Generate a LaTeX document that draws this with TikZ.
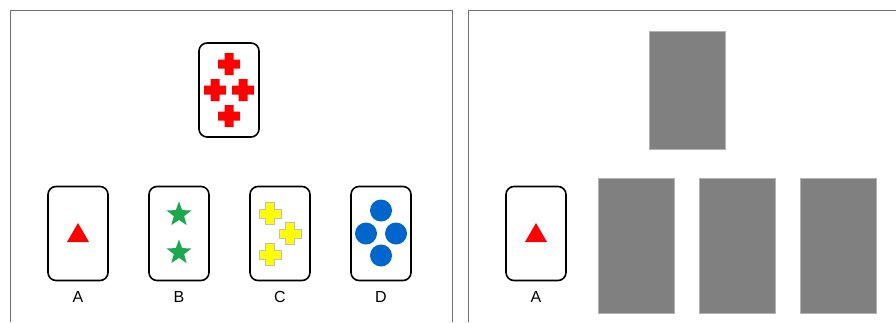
\documentclass[tikz,border=0pt]{standalone}
\usepackage{fontspec}
\setmainfont{Liberation Sans}
\usepackage{tikz}
\usetikzlibrary{positioning,shapes.geometric,calc}
\definecolor{CardRed}{RGB}{255,0,0}
\definecolor{CardGreen}{RGB}{28,168,78}
\definecolor{CardYellow}{RGB}{255,255,0}
\definecolor{CardBlue}{RGB}{0,102,204}
\definecolor{BackGray}{RGB}{128,128,128}
\definecolor{FrameGray}{RGB}{112,112,112}

\begin{document}
\begin{tikzpicture}[x=1pt,y=-1pt,font=\fontsize{16}{18}\selectfont,
  card/.style={draw=black,line width=1.6pt,rounded corners=8pt,
    minimum width=60pt,minimum height=94pt,inner sep=0pt,outer sep=0pt},
  backcard/.style={fill=BackGray,draw=black!30,line width=0.6pt,
    minimum width=76pt,inner sep=0pt,outer sep=0pt},
  cardlabel/.style={inner sep=0pt,anchor=north},
  starmark/.style={star,star points=5,star point ratio=2.4,minimum size=26pt,
    inner sep=0pt,fill=CardGreen},
  dotmark/.style={circle,minimum size=22pt,inner sep=0pt,fill=CardBlue},
  crossmark/.pic={
    \path[pic actions] (-4.5,-11) -- (4.5,-11) -- (4.5,-4.5) -- (11,-4.5) -- (11,4.5)
      -- (4.5,4.5) -- (4.5,11) -- (-4.5,11) -- (-4.5,4.5) -- (-11,4.5) -- (-11,-4.5)
      -- (-4.5,-4.5) -- cycle;
  }]
\useasboundingbox (0,0) rectangle (896,322);

% two panels
\draw[FrameGray,line width=1pt] (10,322) -- (10,10) -- (452,10) -- (452,322);
\draw[FrameGray,line width=1pt] (468,322) -- (468,10) -- (896,10);

% left panel: target card and choices
\node[card] (target) at (229,90) {};
\node[card] (cardA) at (78,233.5) {};
\node[card,right=41pt of cardA] (cardB) {};
\node[card,right=41pt of cardB] (cardC) {};
\node[card,right=41pt of cardC] (cardD) {};
\foreach \c/\t in {cardA/A,cardB/B,cardC/C,cardD/D}{
  \node[cardlabel,below=11pt of \c] (lbl\t) {\t};
}

\foreach \dx/\dy in {0/-26,-14/0,14/0,0/26}{
  \pic[fill=CardRed] at ($(target)+(\dx,\dy)$) {crossmark};
}
\fill[CardRed] ($(cardA)+(0,-10.5)$) -- ($(cardA)+(11,8.5)$) -- ($(cardA)+(-11,8.5)$) -- cycle;
\foreach \dy [count=\k] in {-19,19}{
  \node[starmark] (star\k) at ($(cardB)+(0,\dy)$) {};
}
\foreach \dx/\dy in {-10/-20,10/0,-10/21}{
  \pic[fill=CardYellow,draw=black!25,line width=0.6pt] at ($(cardC)+(\dx,\dy)$) {crossmark};
}
\foreach \dx/\dy [count=\k] in {0/-23,-15/0,15/0,0/22}{
  \node[dotmark] (dot\k) at ($(cardD)+(\dx,\dy)$) {};
}

% right panel: face-down cards
\node[backcard,minimum height=118pt] (backT) at (687,90) {};
\node[card] (cardR) at (536,233.5) {};
\node[cardlabel,below=11pt of cardR] (lblR) {A};
\fill[CardRed] ($(cardR)+(0,-10.5)$) -- ($(cardR)+(11,8.5)$) -- ($(cardR)+(-11,8.5)$) -- cycle;
\node[backcard,minimum height=135pt] (back1) at (636,245.5) {};
\node[backcard,minimum height=135pt,right=25pt of back1] (back2) {};
\node[backcard,minimum height=135pt,right=25pt of back2] (back3) {};
\end{tikzpicture}
\end{document}
